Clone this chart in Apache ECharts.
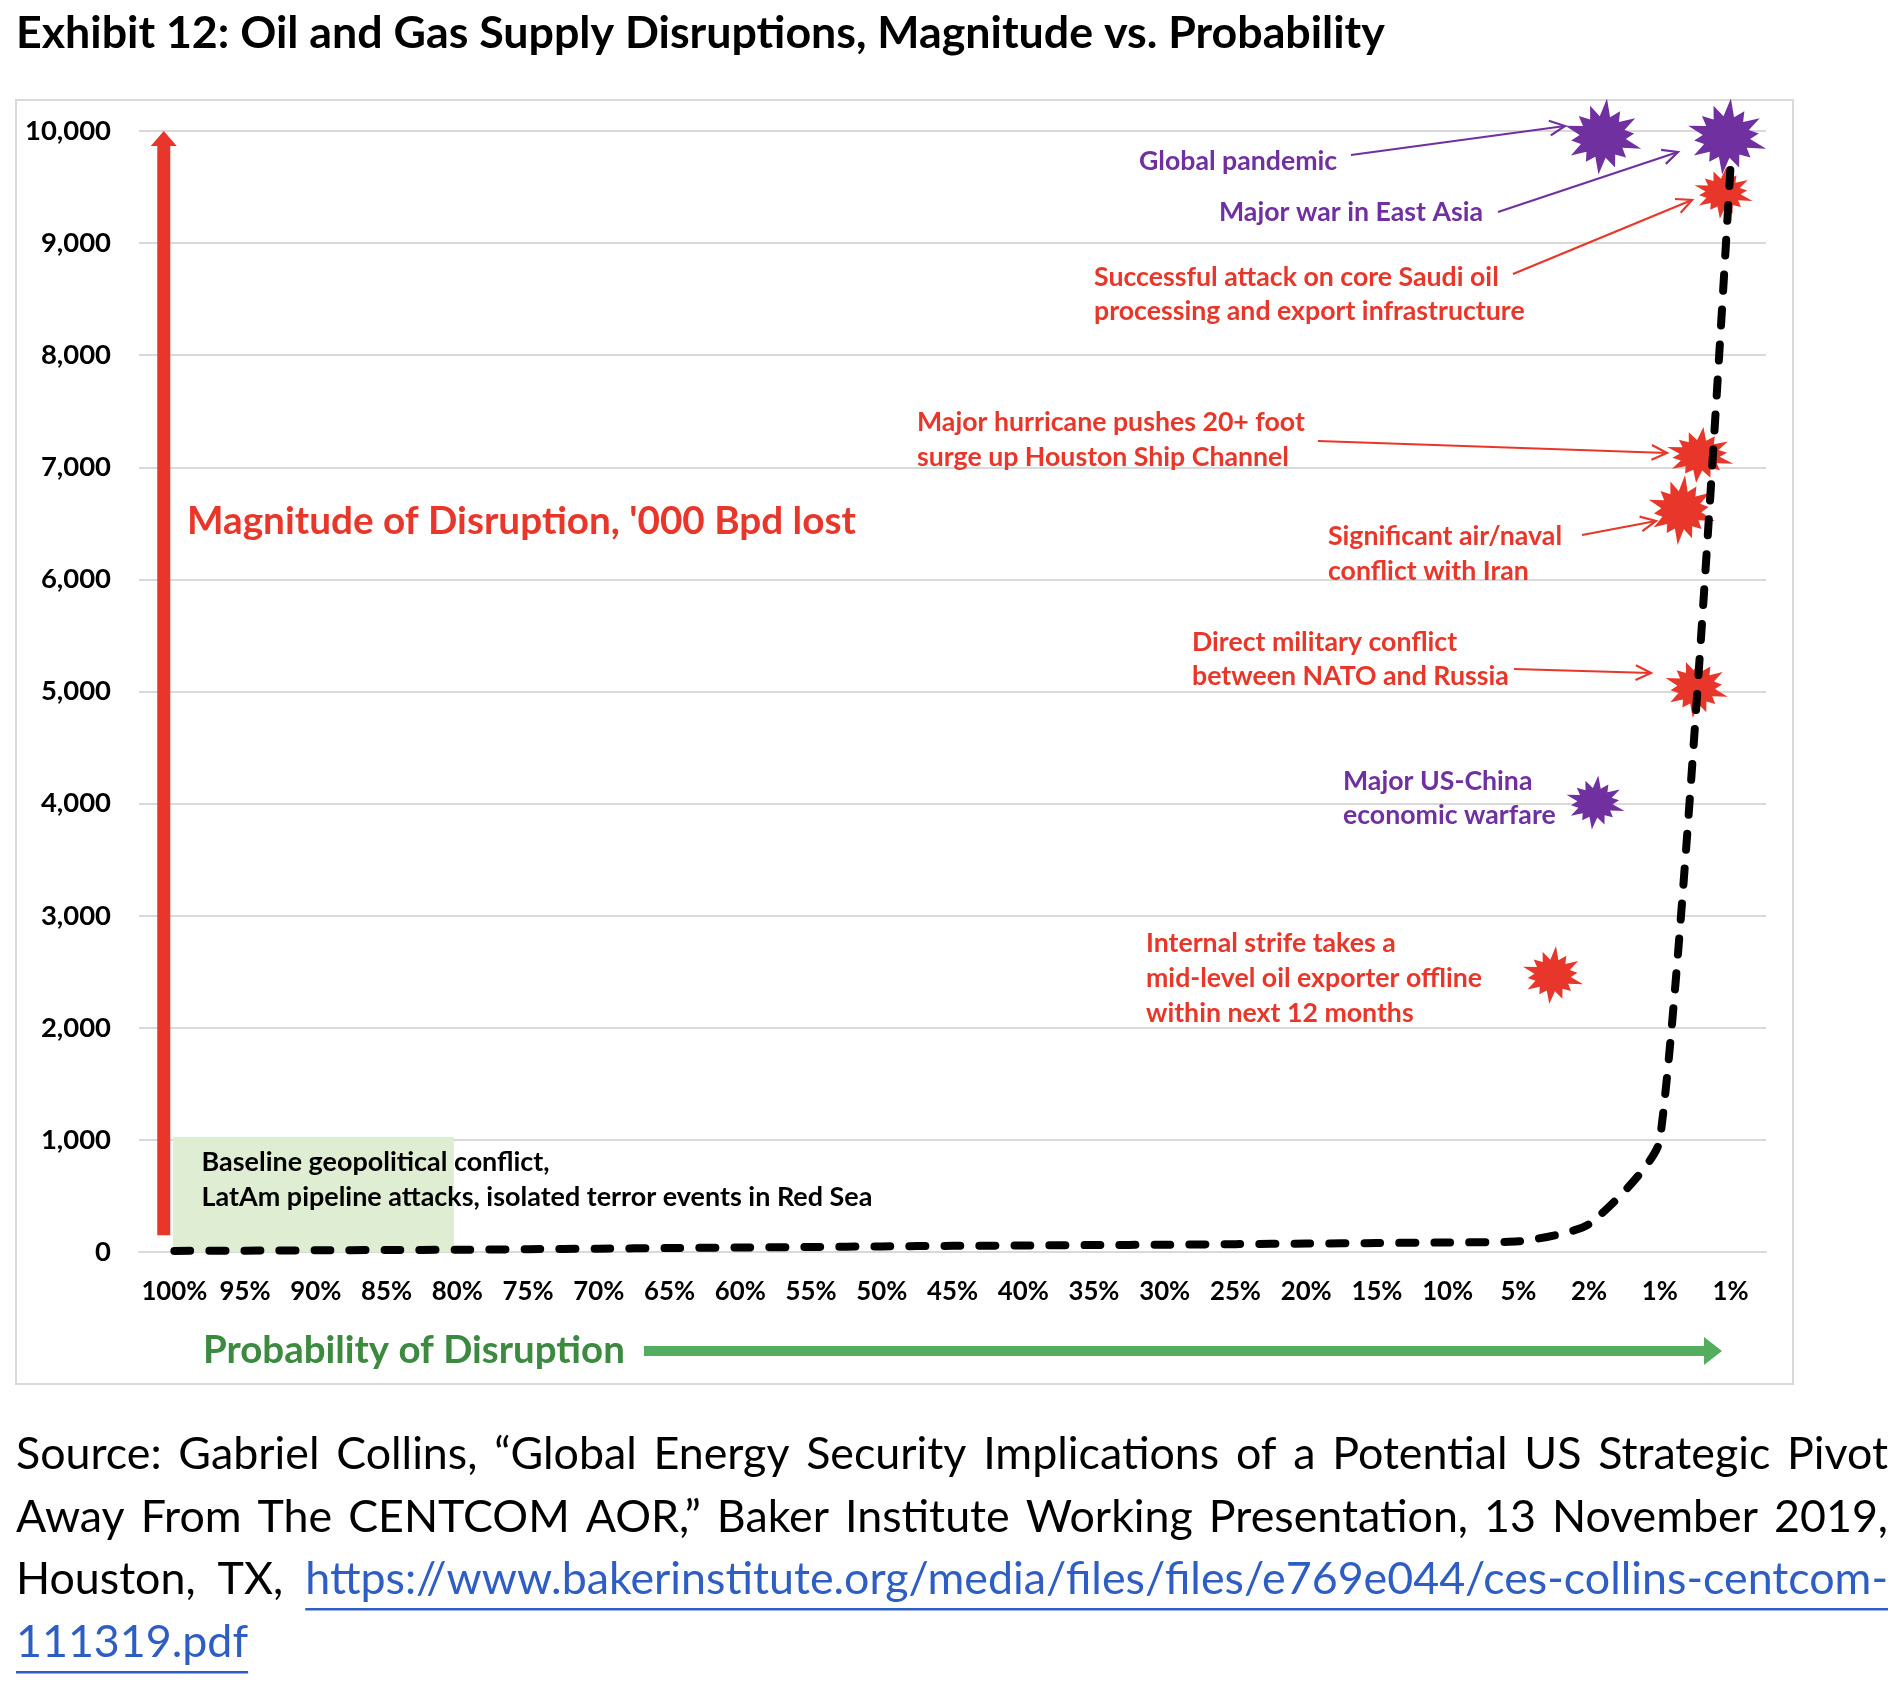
<!DOCTYPE html>
<html><head><meta charset="utf-8">
<script src="https://cdn.jsdelivr.net/npm/echarts@6/dist/echarts.min.js"></script>
<style>html,body{margin:0;padding:0;background:#fff}#c{width:1904px;height:1682px}</style>
</head><body><div id="c"></div>
<script>
// ---------------- DATA ----------------
const probabilityLabels = ['100%','95%','90%','85%','80%','75%','70%','65%','60%','55%','50%','45%','40%','35%','30%','25%','20%','15%','10%','5%','2%','1%','1%'];
const magnitudeCurve = [10,12,15,18,20,25,30,35,40,45,50,55,58,62,65,70,75,80,85,95,250,1000,9700];
const eventNames = ['Global pandemic','Major war in East Asia','Successful attack on core Saudi oil processing and export infrastructure','Major hurricane pushes 20+ foot surge up Houston Ship Channel','Significant air/naval conflict with Iran','Direct military conflict between NATO and Russia','Major US-China economic warfare','Internal strife takes a mid-level oil exporter offline within next 12 months'];
const eventProbability = [20.2, 21.95, 21.9, 21.57, 21.31, 21.52, 20.09, 19.49]; // position along probability axis (category index)
const eventMagnitude = [9950, 9950, 9450, 7110, 6620, 5040, 4010, 2470];
const eventGroup = ['global','global','supply','supply','supply','supply','global','supply'];
const baselineZoneProbability = [-0.02, 3.95];
const baselineZoneMagnitude = [0, 1026];
const magnitudeArrowProbability = -0.15;
const magnitudeArrowRange = [150, 10000];

// ---------------- STYLE ----------------
const FONT = 'Lato';
const RED = '#E8372A', PURPLE = '#7030A0', GREEN_TXT = '#3B8A40', GREEN = '#52AD5E', GRID = '#D9D9D9';
const groupColor = {global: PURPLE, supply: RED};
const starSizes = [[76,76],[78,76],[58,52],[66,56],[66,70],[62,62],[58,54],[60,58]];

const ctx = document.createElement('canvas').getContext('2d');
function fitSize(text, weight, width) {
  ctx.font = weight + ' 100px ' + FONT;
  return 100 * width / ctx.measureText(text).width;
}
function measure(text, weight, size) {
  ctx.font = weight + ' ' + size + 'px ' + FONT;
  return ctx.measureText(text).width;
}
function burst(radii, inner) {
  const n = radii.length; let d = '';
  for (let i = 0; i < n; i++) {
    const a0 = -Math.PI / 2 + i * 2 * Math.PI / n + 0.1;
    const a1 = a0 + Math.PI / n;
    const ox = 50 + 50 * radii[i] * Math.cos(a0), oy = 50 + 50 * radii[i] * Math.sin(a0);
    const ix = 50 + 50 * inner * Math.cos(a1), iy = 50 + 50 * inner * Math.sin(a1);
    d += (i ? 'L' : 'M') + ox.toFixed(1) + ' ' + oy.toFixed(1) + 'L' + ix.toFixed(1) + ' ' + iy.toFixed(1);
  }
  return 'path://' + d + 'Z';
}
const STAR = burst([1.0,0.78,0.9,0.74,0.95,0.76,0.84,0.98,0.75,0.88,0.74,0.92,0.78,0.86], 0.54);

function txt(text, x, y, size, weight, color, extra) {
  return Object.assign({type: 'text', x: x, y: y, z: 100,
    style: {text: text, fill: color, fontFamily: FONT, fontSize: size, fontWeight: weight,
      align: 'left', verticalAlign: 'middle', textAlign: 'left', textVerticalAlign: 'middle'}}, extra || {});
}
function arrow(x1, y1, x2, y2, color) {
  const ang = Math.atan2(y2 - y1, x2 - x1), L = 17, A = 0.45;
  const p1 = [x2 - L * Math.cos(ang - A), y2 - L * Math.sin(ang - A)];
  const p2 = [x2 - L * Math.cos(ang + A), y2 - L * Math.sin(ang + A)];
  return [
    {type: 'line', z: 100, shape: {x1: x1, y1: y1, x2: x2, y2: y2}, style: {stroke: color, lineWidth: 2.2}},
    {type: 'polyline', z: 100, shape: {points: [p1, [x2, y2], p2]}, style: {stroke: color, lineWidth: 2.2, fill: null}}
  ];
}
function justify(words, colors, y, size, weight, x0, x1) {
  const ws = words.map(w => measure(w, weight, size));
  const total = ws.reduce((a, b) => a + b, 0);
  const gap = words.length > 1 ? (x1 - x0 - total) / (words.length - 1) : 0;
  let x = x0; const out = [];
  words.forEach((w, i) => { out.push(txt(w, x, y, size, weight, colors[i])); x += ws[i] + gap; });
  return out;
}

// ---------------- SIZES ----------------
const titleText = 'Exhibit 12: Oil and Gas Supply Disruptions, Magnitude vs. Probability';
const titleSize = fitSize(titleText, 'bold', 1369);
const magText = "Magnitude of Disruption, '000 Bpd lost";
const magSize = fitSize(magText, 'bold', 669);
const probText = 'Probability of Disruption';
const probSize = fitSize(probText, 'bold', 422);
const annSize = fitSize('Successful attack on core Saudi oil', 'bold', 405);
const baseSize = fitSize('LatAm pipeline attacks, isolated terror events in Red Sea', 'bold', 671);
const yLabSize = fitSize('10,000', 'bold', 86);
const xLabSize = Math.min(fitSize('100%', 'bold', 66), yLabSize);
const link = 'https://www.bakerinstitute.org/media/files/files/e769e044/ces-collins-centcom-';
const srcSize = fitSize(link, 'normal', 1583);
const LINK = '#2E5EC4';

// ---------------- GRAPHICS ----------------
const g = [];
g.push({type: 'rect', z: 0, shape: {x: 16, y: 100, width: 1777, height: 1284}, style: {fill: null, stroke: GRID, lineWidth: 2}});
g.push(txt(titleText, 16, 34, titleSize, 'bold', '#000'));
g.push(txt(magText, 187, 522, magSize, 'bold', RED));
g.push(txt(probText, 203, 1351, probSize, 'bold', GREEN_TXT));
g.push({type: 'rect', z: 100, shape: {x: 644, y: 1346, width: 1062, height: 10}, style: {fill: GREEN}});
g.push({type: 'polygon', z: 100, shape: {points: [[1704, 1337], [1722, 1351], [1704, 1365]]}, style: {fill: GREEN}});

const ann = [
  [['Global pandemic'], 1139, 161.5, PURPLE],
  [['Major war in East Asia'], 1219, 212.5, PURPLE],
  [['Successful attack on core Saudi oil', 'processing and export infrastructure'], 1094, 277, RED],
  [['Major hurricane pushes 20+ foot', 'surge up Houston Ship Channel'], 917, 422.6, RED],
  [['Significant air/naval', 'conflict with Iran'], 1328, 536.7, RED],
  [['Direct military conflict', 'between NATO and Russia'], 1192, 642, RED],
  [['Major US-China', 'economic warfare'], 1343, 781, PURPLE],
  [['Internal strife takes a', 'mid-level oil exporter offline', 'within next 12 months'], 1146, 943.5, RED]
];
ann.forEach(a => a[0].forEach((line, i) => g.push(txt(line, a[1], a[2] + i * 34.8, annSize, 'bold', a[3]))));
g.push(txt('Baseline geopolitical conflict,', 201.6, 1162, baseSize, 'bold', '#000'));
g.push(txt('LatAm pipeline attacks, isolated terror events in Red Sea', 201.6, 1197, baseSize, 'bold', '#000'));

[[1351, 155, 1565, 126, PURPLE], [1498, 212, 1678, 152, PURPLE], [1513, 274, 1692, 200, RED],
 [1318, 441, 1667, 453, RED], [1582, 535, 1656, 521, RED], [1514, 669, 1651, 673, RED]]
  .forEach(a => arrow(a[0], a[1], a[2], a[3], a[4]).forEach(e => g.push(e)));

// source text (justified)
justify(['Source:', 'Gabriel', 'Collins,', '“Global', 'Energy', 'Security', 'Implications', 'of', 'a', 'Potential', 'US', 'Strategic', 'Pivot'], Array(13).fill('#000'), 1455, srcSize, 'normal', 16, 1888).forEach(e => g.push(e));
justify(['Away', 'From', 'The', 'CENTCOM', 'AOR,”', 'Baker', 'Institute', 'Working', 'Presentation,', '13', 'November', '2019,'], Array(12).fill('#000'), 1518, srcSize, 'normal', 16, 1888).forEach(e => g.push(e));
justify(['Houston,', 'TX,', link], ['#000', '#000', LINK], 1580, srcSize, 'normal', 16, 1888).forEach(e => g.push(e));
g.push(txt('111319.pdf', 16, 1643, srcSize, 'normal', LINK));
const linkW = measure(link, 'normal', srcSize);
g.push({type: 'rect', z: 100, shape: {x: 1888 - linkW, y: 1608, width: linkW, height: 2.5}, style: {fill: LINK}});
g.push({type: 'rect', z: 100, shape: {x: 16, y: 1671, width: measure('111319.pdf', 'normal', srcSize), height: 2.5}, style: {fill: LINK}});

// ---------------- CHART ----------------
const chart = echarts.init(document.getElementById('c'), null, {renderer: 'canvas'});
chart.setOption({
  animation: false,
  backgroundColor: '#fff',
  grid: {left: 139, top: 131, width: 1627, height: 1121, containLabel: false},
  xAxis: [
    {type: 'category', data: probabilityLabels, boundaryGap: true,
     axisLine: {show: true, lineStyle: {color: GRID, width: 2}}, axisTick: {show: false}, splitLine: {show: false},
     axisLabel: {interval: 0, margin: 27, color: '#000', fontFamily: FONT, fontWeight: 'bold', fontSize: xLabSize}},
    {type: 'value', min: -0.5, max: 22.5, show: false, splitLine: {show: false}}
  ],
  yAxis: {type: 'value', min: 0, max: 10000, interval: 1000,
    axisLine: {show: false}, axisTick: {show: false},
    splitLine: {lineStyle: {color: GRID, width: 2}},
    axisLabel: {margin: 28, color: '#000', fontFamily: FONT, fontWeight: 'bold', fontSize: yLabSize,
      formatter: v => v.toLocaleString('en-US')}},
  graphic: g,
  series: [
    {type: 'custom', name: 'Baseline zone', xAxisIndex: 1, z: 1, silent: true,
     data: [[baselineZoneProbability[0], baselineZoneProbability[1], baselineZoneMagnitude[0], baselineZoneMagnitude[1]]],
     encode: {x: [0, 1], y: [2, 3]},
     renderItem: (p, api) => {
       const a = api.coord([api.value(0), api.value(3)]), b = api.coord([api.value(1), api.value(2)]);
       return {type: 'rect', shape: {x: a[0], y: a[1], width: b[0] - a[0], height: b[1] - a[1]}, style: {fill: '#DFEDD3'}};
     }},
    {type: 'custom', name: 'Magnitude arrow', xAxisIndex: 1, z: 2, silent: true,
     data: [[magnitudeArrowProbability, magnitudeArrowRange[0], magnitudeArrowRange[1]]],
     encode: {x: 0, y: [1, 2]},
     renderItem: (p, api) => {
       const pb = api.coord([api.value(0), api.value(1)]), pt = api.coord([api.value(0), api.value(2)]);
       const sw = 13, hw = 26, hh = 15;
       return {type: 'group', children: [
         {type: 'rect', shape: {x: pb[0] - sw / 2, y: pt[1] + hh - 1, width: sw, height: pb[1] - pt[1] - hh + 1}, style: {fill: RED}},
         {type: 'polygon', shape: {points: [[pt[0], pt[1]], [pt[0] - hw / 2, pt[1] + hh], [pt[0] + hw / 2, pt[1] + hh]]}, style: {fill: RED}}
       ]};
     }},
    {type: 'scatter', name: 'Events', xAxisIndex: 1, z: 3, symbol: STAR,
     data: eventProbability.map((x, i) => ({name: eventNames[i], value: [x, eventMagnitude[i]],
       symbolSize: starSizes[i], itemStyle: {color: groupColor[eventGroup[i]], opacity: 1}}))},
    {type: 'line', name: 'Magnitude', xAxisIndex: 0, z: 5, data: magnitudeCurve, symbol: 'none', smooth: 0.2,
     lineStyle: {color: '#000', width: 8, type: [16, 19], cap: 'round'}}
  ]
});
</script>
</body></html>
